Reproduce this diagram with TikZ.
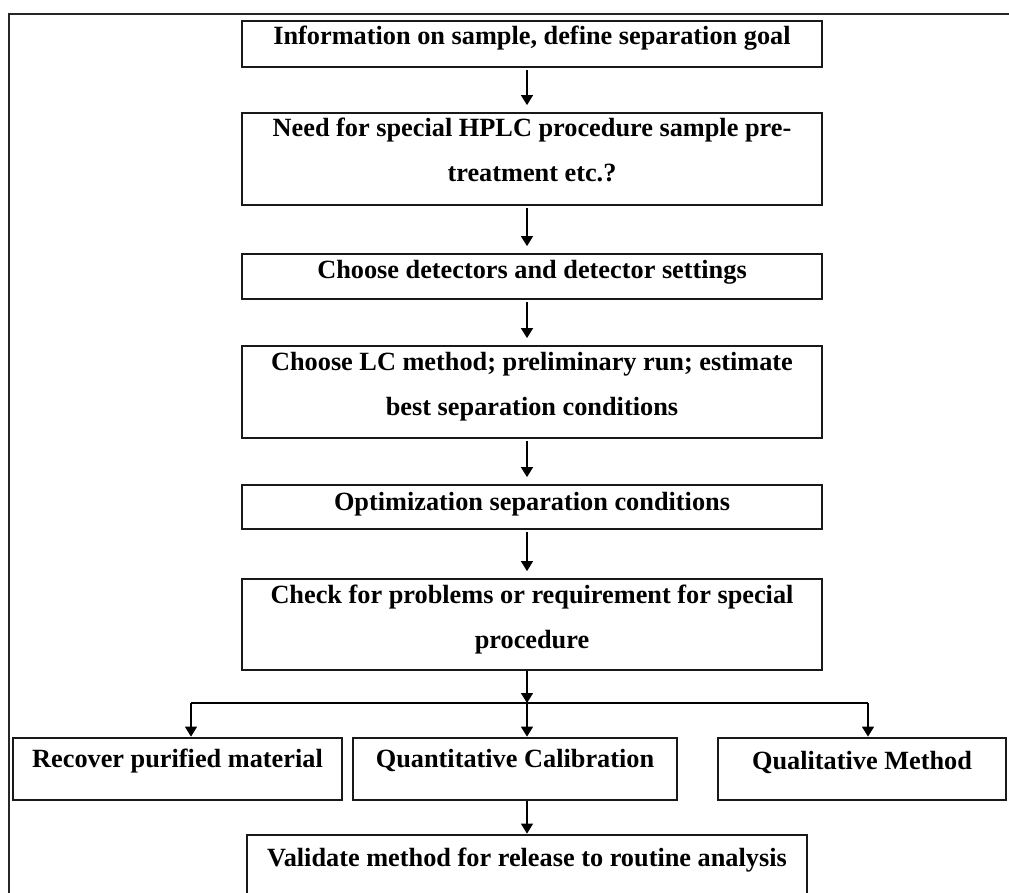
\documentclass[tikz,border=0pt]{standalone}
\usepackage{fontspec}
\setmainfont{Liberation Serif}
\usetikzlibrary{arrows.meta}

\tikzset{
  stepbox/.style={draw=black!90, line width=1.8pt, inner sep=0pt, rectangle},
  steptext/.style={anchor=base, inner sep=0pt, font=\bfseries\fontsize{26.3}{45}\selectfont},
  arr/.style={line width=1.5pt, -{Triangle[width=12pt,length=10pt]}, shorten <=2pt, shorten >=7pt},
  link/.style={line width=1.5pt}
}

% box from its corner coordinates: #1 name, (#2,#3) top-left, (#4,#5) bottom-right
\newcommand{\flowbox}[5]{%
  \node[stepbox, minimum width={(#4-#2)*1pt}, minimum height={(#5-#3)*1pt}]
    (#1) at ({(#2+#4)/2},{(#3+#5)/2}) {};}

\begin{document}
\begin{tikzpicture}[x=1pt, y=-1pt]
\useasboundingbox (0,0) rectangle (1009,893);

% outer frame (top and left edges)
\draw[line width=1.5pt, black!85] (1012,14) -- (9,14) -- (9,896);

% boxes
\flowbox{b1}{242}{21}{822}{67}
\flowbox{b2}{242}{113}{822}{205}
\flowbox{b3}{242}{254}{822}{299}
\flowbox{b4}{242}{346}{822}{438}
\flowbox{b5}{242}{485}{822}{529}
\flowbox{b6}{242}{579}{822}{670}
\flowbox{b7}{13}{738}{342}{800}
\flowbox{b8}{353}{738}{677}{800}
\flowbox{b9}{718}{738}{1006}{800}
\flowbox{b10}{247}{835}{807}{905}

% labels
\node[steptext] (t1) at (532,45) {Information on sample, define separation goal};
\node[steptext] (t2) at (532,137) {\parbox[t]{560pt}{\centering Need for special HPLC procedure sample pre-\\treatment etc.?}};
\node[steptext] (t3) at (532,279) {Choose detectors and detector settings};
\node[steptext] (t4) at (532,370) {\parbox[t]{560pt}{\centering Choose LC method; preliminary run; estimate\\best separation conditions}};
\node[steptext] (t5) at (532,510) {Optimization separation conditions};
\node[steptext] (t6) at (532,603) {\parbox[t]{560pt}{\centering Check for problems or requirement for special\\procedure}};
\node[steptext] (t7) at (177.5,767) {Recover purified material};
\node[steptext] (t8) at (515,767) {Quantitative Calibration};
\node[steptext] (t9) at (862,769) {Qualitative Method};
\node[steptext] (t10) at (527,866) {Validate method for release to routine analysis};

% connectors
\coordinate (spine) at (527,0);
\draw[arr] (b1.south -| spine) -- (b2.north -| spine);
\draw[arr] (b2.south -| spine) -- (b3.north -| spine);
\draw[arr] (b3.south -| spine) -- (b4.north -| spine);
\draw[arr] (b4.south -| spine) -- (b5.north -| spine);
\draw[arr] (b5.south -| spine) -- (b6.north -| spine);

\coordinate (split) at (527,703);
\coordinate (splitL) at (191,703);
\coordinate (splitR) at (868,703);
\draw[arr, shorten <=0pt, shorten >=0pt] (b6.south -| spine) -- (split);
\draw[link] (splitL) -- (splitR);
\draw[arr, shorten <=0pt, shorten >=0.5pt] (splitL) -- (splitL |- b7.north);
\draw[arr, shorten <=0pt, shorten >=0.5pt] (split) -- (split |- b8.north);
\draw[arr, shorten <=0pt, shorten >=0.5pt] (splitR) -- (splitR |- b9.north);
\draw[arr, shorten <=0pt, shorten >=0.5pt] (b8.south -| spine) -- (b10.north -| spine);
\end{tikzpicture}
\end{document}
